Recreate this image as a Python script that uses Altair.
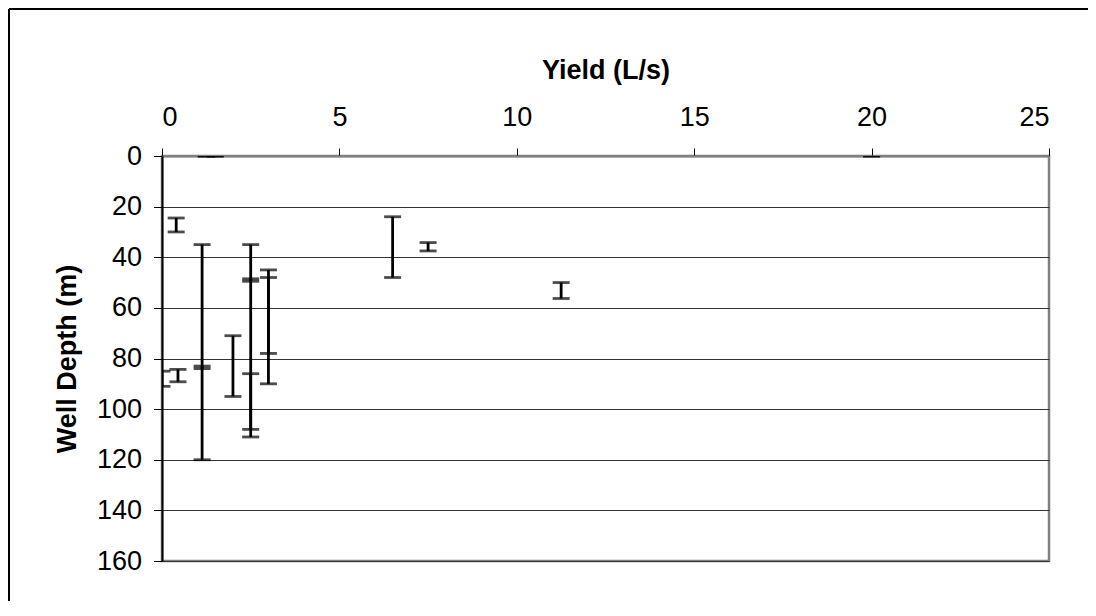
import altair as alt
import pandas as pd

# one vertical range per water-bearing interval (yield in L/s, depth in m)
yield_ls = [1.25, 1.5, 20.0, 0.4, 1.13, 1.13, 2.0, 2.5, 2.5, 2.5, 3.0, 3.0, 0.0, 0.45, 6.5, 7.5, 11.25]
depth_top = [0, 0, 0, 24.5, 35, 83, 71, 35, 48.5, 86, 45, 48, 85, 84.3, 24, 34.2, 50]
depth_bottom = [0, 0, 0, 30, 84, 120, 95, 49.5, 108, 111, 90, 78, 91, 89.2, 48, 37.5, 56.3]

x_ticks = [0, 5, 10, 15, 20, 25]
y_ticks = [0, 20, 40, 60, 80, 100, 120, 140, 160]

bars = pd.DataFrame({"yield": yield_ls, "top": depth_top, "bottom": depth_bottom})
caps = pd.concat([
    bars[["yield", "top"]].rename(columns={"top": "depth"}),
    bars[["yield", "bottom"]].rename(columns={"bottom": "depth"}),
], ignore_index=True)

FONT = "Liberation Sans"

x_scale = alt.Scale(domain=[0, 25], nice=False, zero=False)
y_scale = alt.Scale(domain=[0, 160], nice=False, reverse=True)

x_axis = alt.Axis(
    orient="top", values=x_ticks, title="Yield (L/s)",
    titleFontSize=27, titleFontWeight="bold", titleY=-78, titleBaseline="alphabetic",
    labelFontSize=27, labelPadding=17, tickSize=8, tickColor="#000000",
    domainColor="#808080", domainWidth=2, grid=False,
)
y_axis = alt.Axis(
    values=y_ticks, title="Well Depth (m)",
    titleFontSize=27, titleFontWeight="bold", titleX=-95, titleY=202.5,
    titleBaseline="middle", titleAlign="center", titleAngle=-90,
    labelFontSize=27, labelPadding=12, tickSize=8.5, tickColor="#000000",
    domainColor="#000000", domainWidth=2,
    grid=True, gridColor="#333333", gridWidth=1,
)

ranges = alt.Chart(bars).mark_rule(color="black", strokeWidth=2.8, clip=True).encode(
    x=alt.X("yield:Q", scale=x_scale, axis=x_axis),
    y=alt.Y("top:Q", scale=y_scale, axis=y_axis),
    y2="bottom:Q",
)

ends = alt.Chart(caps).mark_tick(
    color="black", orient="horizontal", size=17, thickness=2.8, clip=True
).encode(
    x=alt.X("yield:Q", scale=x_scale),
    y=alt.Y("depth:Q", scale=y_scale),
)

# outer frame of the chart object (left and top edges are the ones in view)
frame_left = alt.Chart(bars).mark_rule(color="black", strokeWidth=1.2).encode(
    x=alt.value(-153), y=alt.value(-147), y2=alt.value(460)
)
frame_top = alt.Chart(bars).mark_rule(color="black", strokeWidth=1.2).encode(
    x=alt.value(-153), x2=alt.value(950), y=alt.value(-147)
)

chart = alt.layer(ranges, ends, frame_left, frame_top).properties(
    width=887,
    height=405,
    autosize=alt.AutoSizeParams(type="none"),
    padding={"left": 154, "top": 148, "right": 39, "bottom": 40},
).configure(
    font=FONT,
).configure_view(
    stroke="#808080", strokeWidth=2.5
).configure_axis(
    labelFont=FONT, titleFont=FONT, labelColor="black", titleColor="black",
)

chart.save("out.html", embed_options={"renderer": "svg", "actions": False})
